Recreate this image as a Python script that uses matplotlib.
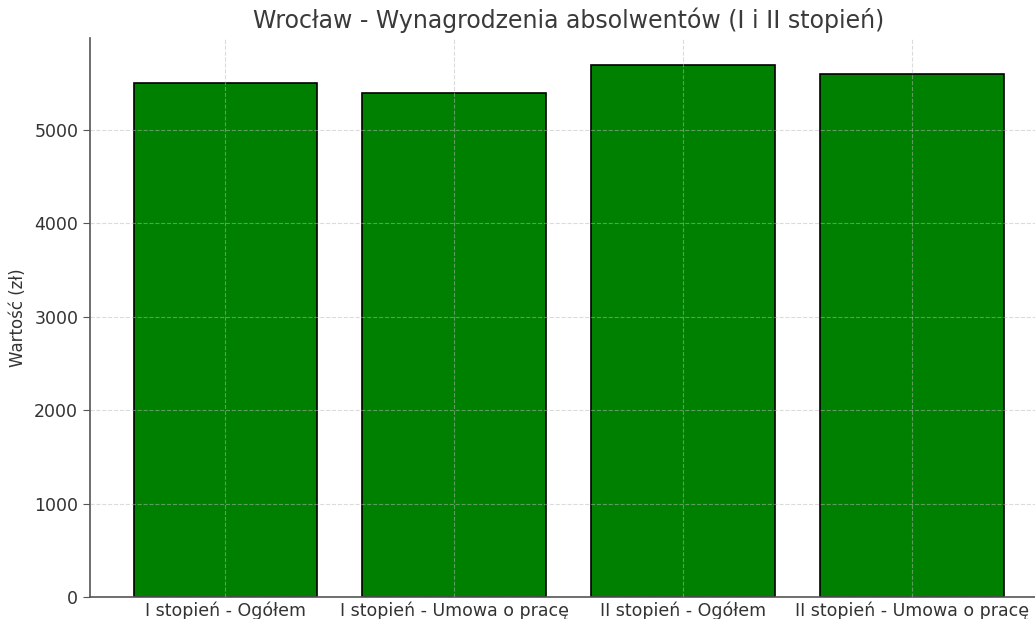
import matplotlib
matplotlib.use("Agg")
import matplotlib.pyplot as plt

categories = ["I stopień - Ogółem", "I stopień - Umowa o pracę",
              "II stopień - Ogółem", "II stopień - Umowa o pracę"]
values = [5500, 5400, 5700, 5600]

plt.rcParams['font.family'] = ['DejaVu Sans']
text_color = '#333333'

fig = plt.figure(figsize=(10.35, 6.19), dpi=100)
ax = fig.add_axes([90/1035, 22/619, 957/1035, 559/619])
ax.bar(categories, values, color='green', edgecolor='black', linewidth=1.2, width=0.8, zorder=2)
ax.set_ylim(0, max(values) * 1.05)
ax.set_xlim(-0.59, 3.59)
ax.set_axisbelow(False)
ax.grid(True, linestyle='--', color='#b8b8b8', alpha=0.5, linewidth=0.8)
for s in ['top', 'right']:
    ax.spines[s].set_visible(False)
for s in ['left', 'bottom']:
    ax.spines[s].set_color('#555555')
    ax.spines[s].set_linewidth(1.2)
ax.tick_params(axis='both', colors='#555555', labelcolor=text_color, labelsize=12.5, length=5)
ax.tick_params(axis='x', length=0, pad=3)
ax.set_ylabel("Wartość (zł)", fontsize=12, color=text_color, labelpad=5)
ax.set_title("Wrocław - Wynagrodzenia absolwentów (I i II stopień)", fontsize=17, color='#3a3a3a', pad=7)
fig.savefig("out.png", dpi=100)
